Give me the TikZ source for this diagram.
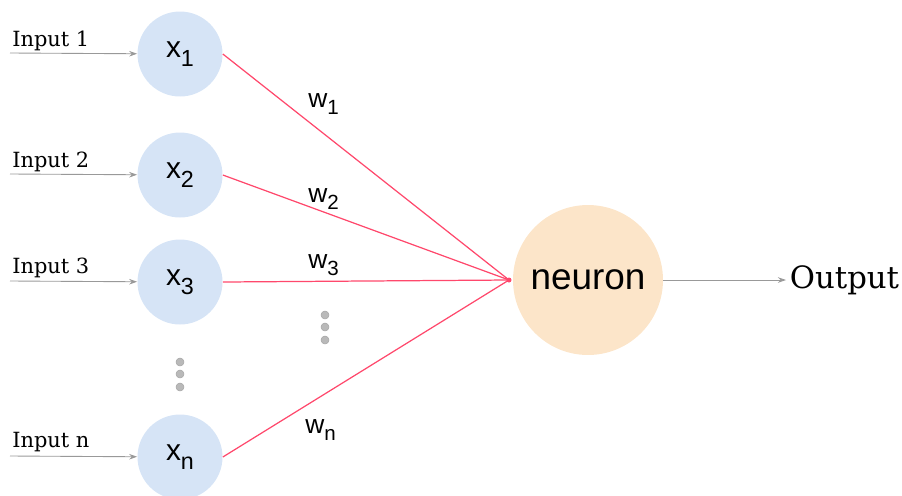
\documentclass[tikz,border=0pt]{standalone}
\usepackage{fontspec}
\newfontfamily\helv{Liberation Sans}
\newfontfamily\slab{DejaVu Serif}
\usetikzlibrary{arrows.meta,positioning}
\definecolor{inblue}{RGB}{214,228,246}
\definecolor{somapeach}{RGB}{252,229,201}
\definecolor{wred}{RGB}{255,72,108}
\newcommand{\lowidx}[1]{\raisebox{-0.55ex}{\scalebox{0.78}{#1}}}

\begin{document}
\begin{tikzpicture}[
x=0.02cm, y=-0.02cm,
inp/.style={circle, fill=inblue, minimum size=1.7cm, inner sep=0pt, font=\helv\fontsize{17}{17}\selectfont},
soma/.style={circle, fill=somapeach, minimum size=3cm, inner sep=0pt, font=\helv\fontsize{21}{21}\selectfont},
inlbl/.style={anchor=base west, inner sep=0pt, font=\slab\fontsize{11.9}{11.9}\selectfont},
wlbl/.style={anchor=base west, inner sep=0pt, font=\helv\fontsize{15}{15}\selectfont},
garr/.style={-{Stealth[length=1.6mm, width=1.1mm]}, gray!80, line width=0.5pt},
wline/.style={wred, line width=0.7pt},
vdots/.style={fill=gray!55, draw=gray!70, line width=0.3pt}
]
\useasboundingbox (0,0) rectangle (902,495);

% inputs
\node[inp] (x1) at (180,54) {x\lowidx{1}};
\node[inp] (x2) at (180,175) {x\lowidx{2}};
\node[inp] (x3) at (180,282) {x\lowidx{3}};
\node[inp] (xn) at (180,457) {x\lowidx{n}};

\coordinate (in1) at (10,53);
\coordinate (in2) at (10,174);
\coordinate (in3) at (10,281);
\coordinate (inn) at (10,456);
\node[inlbl] (l1) at (12,46) {Input 1};
\node[inlbl] (l2) at (12,167) {Input 2};
\node[inlbl] (l3) at (12,273) {Input 3};
\node[inlbl] (ln) at (12,447) {Input n};

\draw[garr] (in1) -- (x1);
\draw[garr] (in2) -- (x2);
\draw[garr] (in3) -- (x3);
\draw[garr] (inn) -- (xn);

% neuron and output
\node[soma] (neuron) at (588,280) {neuron};
\coordinate (hub) at (509,280);
\node[anchor=west, inner sep=2pt, font=\slab\fontsize{17.5}{17.5}\selectfont] (out) at (786,280) {Output};
\draw[garr] (neuron) -- (out);

% weighted connections
\draw[wline] (x1.east) -- (hub);
\draw[wline] (x2.east) -- (hub);
\draw[wline] (x3.east) -- (hub);
\draw[wline] (xn.east) -- (hub);
\fill[wred] (hub) circle (2.5);

\node[wlbl] (w1) at (308,107) {w\lowidx{1}};
\node[wlbl] (w2) at (308,202) {w\lowidx{2}};
\node[wlbl] (w3) at (308,268) {w\lowidx{3}};
\node[wlbl] (wn) at (305,433) {w\lowidx{n}};

% ellipsis dots
\foreach \y in {362,374,387} \filldraw[vdots] (180,\y) circle (4);
\foreach \y in {315,327,340} \filldraw[vdots] (325,\y) circle (4);
\end{tikzpicture}
\end{document}
